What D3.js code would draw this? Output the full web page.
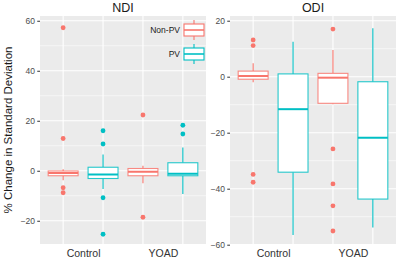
<!DOCTYPE html>
<html>
<head>
<meta charset="utf-8">
<script src="https://cdn.jsdelivr.net/npm/d3@7"></script>
<style>
  html, body { margin: 0; padding: 0; background: #fff; }
  svg { display: block; font-family: "Liberation Sans", Arial, sans-serif; }
</style>
</head>
<body>
<svg id="chart" width="400" height="259"></svg>
<script>
// ---- data ----
const groups = ["Control", "YOAD"];
const series = ["Non-PV", "PV"];
const seriesColors = ["#F8766D", "#00BFC4"];
const panelTitles = ["NDI", "ODI"];

// five-number summaries: [group, series, lower, q1, median, q3, upper]
const ndiStats = [
  ["Control", "Non-PV", -3.8, -2.0, -0.9, -0.1, 0.6],
  ["Control", "PV", -7.3, -3.1, -1.5, 1.4, 6.5],
  ["YOAD", "Non-PV", -5.0, -2.0, -0.4, 0.9, 2.0],
  ["YOAD", "PV", -9.3, -2.0, -1.2, 3.2, 9.3]
];
const ndiOutliers = [
  ["Control", "Non-PV", 57.2], ["Control", "Non-PV", 12.9],
  ["Control", "Non-PV", -6.8], ["Control", "Non-PV", -8.8],
  ["Control", "PV", 16.0], ["Control", "PV", 10.7],
  ["Control", "PV", -10.8], ["Control", "PV", -25.4],
  ["YOAD", "Non-PV", 22.3], ["YOAD", "Non-PV", -18.6],
  ["YOAD", "PV", 18.2], ["YOAD", "PV", 14.7]
];
const odiStats = [
  ["Control", "Non-PV", -2.0, -0.9, 0.25, 2.0, 4.8],
  ["Control", "PV", -56.5, -34.1, -11.6, 1.0, 12.5],
  ["YOAD", "Non-PV", -9.8, -9.5, -0.35, 1.2, 9.5],
  ["YOAD", "PV", -53.9, -43.7, -21.8, -1.8, 17.3]
];
const odiOutliers = [
  ["Control", "Non-PV", 13.1], ["Control", "Non-PV", 11.1],
  ["Control", "Non-PV", -34.9], ["Control", "Non-PV", -37.7],
  ["YOAD", "Non-PV", 17.0], ["YOAD", "Non-PV", -25.8],
  ["YOAD", "Non-PV", -38.3], ["YOAD", "Non-PV", -46.1],
  ["YOAD", "Non-PV", -55.1]
];
const ndiTicks = [-20, 0, 20, 40, 60];
const ndiMinor = [-10, 10, 30, 50];
const odiTicks = [-60, -40, -20, 0, 20];
const odiMinor = [-50, -30, -10, 10];
const yTitle = "% Change in Standard Deviation";

// ---- layout ----
const svg = d3.select("#chart");
const pTop = 16, pBottom = 244;
const panels = [
  { title: panelTitles[0], x0: 40, x1: 206, domain: [-29.3, 61.9], stats: ndiStats, outliers: ndiOutliers, ticks: ndiTicks, minor: ndiMinor, legend: true },
  { title: panelTitles[1], x0: 230, x1: 396, domain: [-59.75, 21.68], stats: odiStats, outliers: odiOutliers, ticks: odiTicks, minor: odiMinor, legend: false }
];
const colorScale = d3.scaleOrdinal().domain(series).range(seriesColors);
const dodge = d3.scaleOrdinal().domain(series).range([-0.25, 0.25]);
const boxW = 0.375;

panels.forEach(p => {
  const x = d3.scaleLinear().domain([0.46, 2.54]).range([p.x0, p.x1]);
  const y = d3.scaleLinear().domain(p.domain).range([pBottom, pTop]);
  const gpos = g => groups.indexOf(g) + 1;
  const g = svg.append("g");

  g.append("rect").attr("x", p.x0).attr("y", pTop)
    .attr("width", p.x1 - p.x0).attr("height", pBottom - pTop).attr("fill", "#EBEBEB");

  g.selectAll(".minor").data(p.minor).join("line")
    .attr("x1", p.x0).attr("x2", p.x1)
    .attr("y1", d => y(d)).attr("y2", d => y(d))
    .attr("stroke", "#fff").attr("stroke-width", 0.55);
  g.selectAll(".major").data(p.ticks).join("line")
    .attr("x1", p.x0).attr("x2", p.x1)
    .attr("y1", d => y(d)).attr("y2", d => y(d))
    .attr("stroke", "#fff").attr("stroke-width", 1.1);
  const vpos = [];
  groups.forEach(gr => series.forEach(s => vpos.push(gpos(gr) + dodge(s))));
  g.selectAll(".vgrid").data(vpos).join("line")
    .attr("x1", d => x(d)).attr("x2", d => x(d))
    .attr("y1", pTop).attr("y2", pBottom)
    .attr("stroke", "#fff").attr("stroke-width", 1.1);

  const yAxis = d3.axisLeft(y).tickValues(p.ticks).tickSize(2.75).tickPadding(2.2);
  const ya = g.append("g").attr("transform", `translate(${p.x0},0)`).call(yAxis);
  ya.select(".domain").remove();
  ya.selectAll(".tick line").attr("stroke", "#333333").attr("stroke-width", 1);
  ya.selectAll(".tick text").attr("fill", "#4D4D4D").attr("font-size", 8.5)
    .attr("font-family", "Liberation Sans, Arial, sans-serif");

  const xAxis = d3.axisBottom(x).tickValues(groups.map(gpos)).tickFormat(d => groups[d - 1]).tickSize(0).tickPadding(6);
  const xa = g.append("g").attr("transform", `translate(0,${pBottom})`).call(xAxis);
  xa.select(".domain").remove();
  xa.selectAll(".tick text").attr("fill", "#333333").attr("font-size", 10.5)
    .attr("font-family", "Liberation Sans, Arial, sans-serif");

  g.append("text").attr("x", (p.x0 + p.x1) / 2).attr("y", 11.5)
    .attr("text-anchor", "middle").attr("font-size", 12.5).attr("fill", "#1a1a1a").text(p.title);

  p.stats.forEach(s => {
    const [gr, se, lo, q1, med, q3, hi] = s;
    const cx = x(gpos(gr) + dodge(se));
    const hw = (x(boxW) - x(0)) / 2;
    const col = colorScale(se);
    const b = g.append("g");
    b.append("line").attr("x1", cx).attr("x2", cx).attr("y1", y(q3)).attr("y2", y(hi))
      .attr("stroke", col).attr("stroke-width", 1.1);
    b.append("line").attr("x1", cx).attr("x2", cx).attr("y1", y(q1)).attr("y2", y(lo))
      .attr("stroke", col).attr("stroke-width", 1.1);
    b.append("rect").attr("x", cx - hw).attr("y", y(q3))
      .attr("width", 2 * hw).attr("height", Math.max(0.5, y(q1) - y(q3)))
      .attr("fill", "#fff").attr("stroke", col).attr("stroke-width", 1.1).attr("stroke-opacity", 0.85);
    b.append("line").attr("x1", cx - hw).attr("x2", cx + hw).attr("y1", y(med)).attr("y2", y(med))
      .attr("stroke", col).attr("stroke-width", 2);
  });
  g.selectAll(".out").data(p.outliers).join("circle")
    .attr("cx", d => x(gpos(d[0]) + dodge(d[1])))
    .attr("cy", d => y(d[2]))
    .attr("r", 2.4)
    .attr("fill", d => colorScale(d[1]));

  if (p.legend) {
    const keyX = 184, keyW = 20;
    const keys = [{ s: series[0], yc: 30 }, { s: series[1], yc: 54 }];
    keys.forEach(k => {
      const col = colorScale(k.s);
      const lg = g.append("g");
      lg.append("line").attr("x1", keyX + keyW / 2).attr("x2", keyX + keyW / 2)
        .attr("y1", k.yc - 10).attr("y2", k.yc + 10).attr("stroke", col).attr("stroke-width", 1.1);
      lg.append("rect").attr("x", keyX).attr("y", k.yc - 6).attr("width", keyW).attr("height", 12)
        .attr("fill", "#fff").attr("stroke", col).attr("stroke-width", 1.1);
      lg.append("line").attr("x1", keyX).attr("x2", keyX + keyW).attr("y1", k.yc).attr("y2", k.yc)
        .attr("stroke", col).attr("stroke-width", 1.6);
      lg.append("text").attr("x", 180).attr("y", k.yc + 3).attr("text-anchor", "end")
        .attr("font-size", 8.5).attr("fill", "#1a1a1a").text(k.s);
    });
  }
});

svg.append("text")
  .attr("transform", `translate(12,${(pTop + pBottom) / 2}) rotate(-90)`)
  .attr("text-anchor", "middle").attr("font-size", 11.5).attr("fill", "#1a1a1a")
  .text(yTitle);
</script>
</body>
</html>
